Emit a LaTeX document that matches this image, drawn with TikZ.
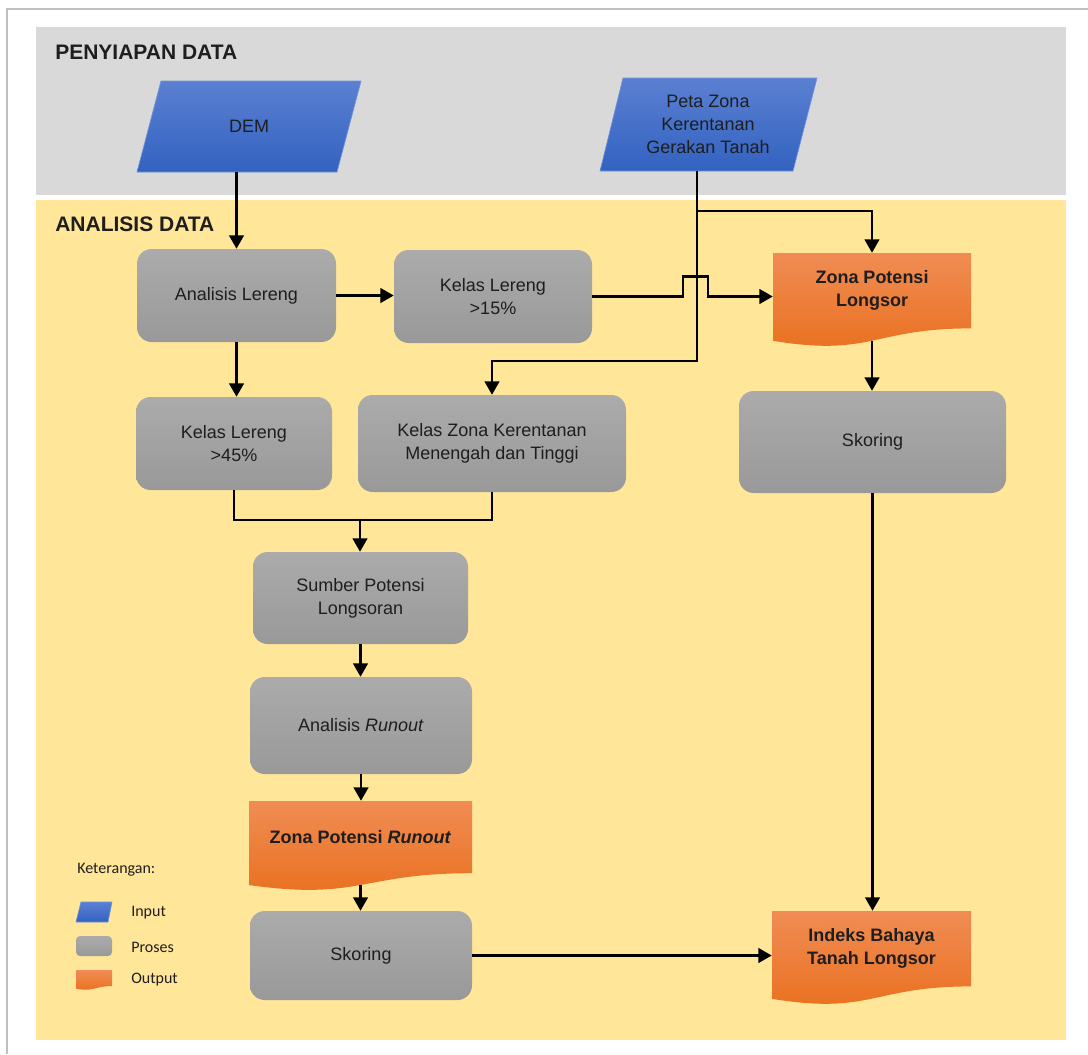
\documentclass[tikz,border=0pt]{standalone}
\usepackage{fontspec}
\setmainfont{Liberation Sans}
\newfontfamily\calib{Carlito}
\usetikzlibrary{arrows.meta}
\definecolor{bandgray}{HTML}{D9D9D9}
\definecolor{bandyel}{HTML}{FFE699}
\definecolor{framegray}{HTML}{BFBFBF}
\definecolor{procTop}{HTML}{ABABAB}
\definecolor{procBot}{HTML}{999999}
\definecolor{inTop}{HTML}{5B80D2}
\definecolor{inBot}{HTML}{3262C0}
\definecolor{inBorder}{HTML}{6F93DA}
\definecolor{outTop}{HTML}{F08C54}
\definecolor{outBot}{HTML}{E96F1D}
\definecolor{txt}{HTML}{1E1E1E}
\newcommand\nodefont{\fontsize{13.5}{17.25}\selectfont}
\newcommand\docshape[4]{%
  \shade[top color=outTop,bottom color=outBot]
    (#1,#3) -- (#2,#3) -- (#2,{#3+0.802*#4})
    .. controls ({(#1+#2)/2},{#3+0.802*#4}) and ({(#1+#2)/2},{#3+1.107*#4}) ..
    (#1,{#3+0.934*#4}) -- cycle;}
\newcommand\inshape[6]{%
  \shade[top color=inTop,bottom color=inBot,draw=inBorder,line width=0.5pt]
    (#1,#5) -- (#2,#5) -- (#4,#6) -- (#3,#6) -- cycle;}
\begin{document}
\begin{tikzpicture}[x=0.75pt,y=-0.75pt,
  sz/.style 2 args={minimum width=#1*0.75pt, minimum height=#2*0.75pt},
  proc/.style={rounded corners=11pt, top color=procTop, bottom color=procBot,
    draw=none, align=center, text=txt, font=\nodefont, inner sep=0pt},
  txtnode/.style={draw=none, align=center, text=txt, font=\nodefont, inner sep=0pt},
  outtxt/.style={draw=none, align=center, text=txt, font=\nodefont\bfseries, inner sep=0pt},
  band/.style={font=\fontsize{15.75}{18}\selectfont\bfseries, text=txt, anchor=west, inner sep=0pt},
  leg/.style={font=\calib\fontsize{12}{14}\selectfont, text=txt, anchor=west, inner sep=0pt},
  arr/.style={line width=1.6pt, -{Triangle[length=10pt,width=11pt]}},
  ln/.style={line width=1.6pt}
]
\useasboundingbox (0,0) rectangle (1088,1054);
\fill[white] (0,0) rectangle (1088,1054);
% frame and bands
\draw[framegray, line width=1.2pt] (7,1054) -- (7,9) -- (1088,9);
\fill[bandgray] (36,27) rectangle (1066,195);
\fill[bandyel] (36,200) rectangle (1066,1040);
\node[band] (t1) at (55,52) {PENYIAPAN DATA};
\node[band] (t2) at (55,224) {ANALISIS DATA};

% input shapes
\inshape{161}{361}{137}{337}{81}{172}
\inshape{623}{817}{600}{793}{78}{171}
\node[txtnode, sz={200}{91}] (dem) at (249,126.5) {DEM};
\node[txtnode, sz={194}{93}] (peta) at (708,124.5) {Peta Zona\\Kerentanan\\Gerakan Tanah};

% output shapes
\docshape{773}{971}{253}{94}
\docshape{249}{472}{801}{90}
\docshape{772}{971}{911}{94}
\node[outtxt, sz={198}{75}] (zpl) at (872,290.5) {Zona Potensi\\Longsor};
\node[outtxt, sz={223}{72}] (zpr) at (360.5,837) {Zona Potensi \textit{Runout}};
\node[outtxt, sz={199}{75}] (ibt) at (871.5,948.5) {Indeks Bahaya\\Tanah Longsor};

% process nodes
\node[proc, sz={199}{93}] (al) at (236.5,295.5) {Analisis Lereng};
\node[proc, sz={198}{93}] (kl15) at (493,296.5) {Kelas Lereng\\>15\%};
\node[proc, sz={196}{93}] (kl45) at (234,443.5) {Kelas Lereng\\>45\%};
\node[proc, sz={268}{97}] (kz) at (492,443.5) {Kelas Zona Kerentanan\\Menengah dan Tinggi};
\node[proc, sz={215}{92}] (sp) at (360.5,598) {Sumber Potensi\\Longsoran};
\node[proc, sz={222}{97}] (ar) at (361,725.5) {Analisis \textit{Runout}};
\node[proc, sz={222}{89}] (skl) at (361,955.5) {Skoring};
\node[proc, sz={267}{102}] (skr) at (872.5,442) {Skoring};

% helper coordinates
\coordinate (pj1) at (697,211);
\coordinate (pj2) at (697,361);
\coordinate (jn) at (360,520);

% connectors
\draw[arr] (al.north |- dem.south) -- (al.north);
\draw[ln] (pj1 |- peta.south) -- (pj1);
\draw[arr] (pj1) -- (pj2) -| (kz.north);
\draw[arr] (pj1) -| (zpl.north);
\draw[arr] (al.east) -- (al.east -| kl15.west);
\draw[arr] (kl15.east) -- ++(91,0) -- ++(0,-20) -- ++(25,0) -- ++(0,20) -- (kl15.east -| zpl.west);
\draw[arr] (al.south) -- (al.south |- kl45.north);
\draw[ln] (kl45.south) -- (kl45.south |- jn) -| (kz.south);
\draw[arr] (jn) -- (jn |- sp.north);
\draw[arr] (sp.south) -- (sp.south |- ar.north);
\draw[arr] (ar.south) -- (ar.south |- zpr.north);
\draw[arr] (zpr.south) ++(0,12) -- (zpr.south |- skl.north);
\draw[arr] (zpl.south) ++(0,13) -- (zpl.south |- skr.north);
\draw[arr] (skr.south) -- (skr.south |- ibt.north);
\draw[arr] (skl.east) -- (skl.east -| ibt.west);

% legend
\node[leg] (kt) at (77,870) {Keterangan:};
\inshape{81}{112}{76}{108}{902}{922}
\node[proc, rounded corners=3pt, sz={36}{20}] (lp) at (94,946) {};
\docshape{76}{112}{970}{20}
\node[leg] (li) at (131,913) {Input};
\node[leg] (lpr) at (131,947) {Proses};
\node[leg] (lo) at (131,980) {Output};
\end{tikzpicture}
\end{document}
